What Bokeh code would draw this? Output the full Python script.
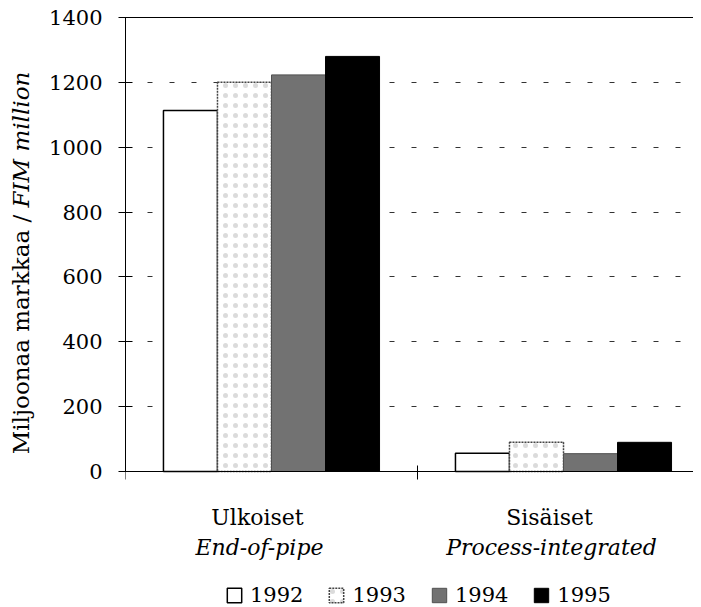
import math
from bokeh.plotting import figure
from bokeh.layouts import row
from bokeh.core.properties import value
from bokeh.core.property.dataspec import DataSpec
from bokeh.models import (Range1d, FixedTicker, LinearAxis, Legend, LegendItem, Label)
from bokeh.embed import file_html
from bokeh.resources import INLINE

# ---- data ----
categories = ["Ulkoiset", "Sisäiset"]
categories_en = ["End-of-pipe", "Process-integrated"]
years = ["1992", "1993", "1994", "1995"]
v1992 = [1113, 56]
v1993 = [1200, 90]
v1994 = [1223, 55]
v1995 = [1280, 90]
yticks = [0, 200, 400, 600, 800, 1000, 1200, 1400]
ylabel_roman = "Miljoonaa markkaa / "
ylabel_italic = "FIM million"

series = [v1992, v1993, v1994, v1995]
offsets = [-0.2775, -0.0925, 0.0925, 0.2775]
styles = [
    dict(fill_color="white", line_color="black", line_width=1.5),
    dict(fill_color="white", line_color="#444444", line_width=1.5, line_dash="2 1",
         hatch_pattern="dot", hatch_color="#999999", hatch_scale=10, hatch_alpha=0.35),
    dict(fill_color="#727272", line_color="#505050", line_width=1,
         hatch_pattern="checker", hatch_color="#454545", hatch_scale=2, hatch_alpha=0.5),
    dict(fill_color="black", line_color="black", line_width=1),
]

FONT = "DejaVu Serif"


def font_arg(model, name="text_font"):
    prop = model.lookup(name).property
    return value(FONT) if isinstance(prop, DataSpec) else FONT


# ---- pixel layout ----
H = 607            # canvas height
TOP = 17           # pixel row of the 1400 line
ZERO = 471         # pixel row of the 0 line
LEFT = 125         # pixel column of the y axis
LABW = 40          # width of the y-title strip
k = (ZERO - TOP) / 1400.0
y_start = 1400 - (H - TOP) / k
ppu = 292.0        # pixels per category
W = 693

# ---- narrow figure holding the y-axis title ----
lab = figure(width=LABW, height=H, output_backend="svg", toolbar_location=None,
             x_range=Range1d(0, 1), y_range=Range1d(0, 1),
             min_border=0, min_border_top=TOP, x_axis_location=None, y_axis_location=None)
lab.outline_line_color = None
lab.grid.visible = False
junction = H - 207
lab.add_layout(Label(x=20, y=junction, x_units="screen", y_units="screen",
                     text=ylabel_roman, angle=math.pi / 2,
                     text_align="right", text_baseline="middle",
                     text_font=font_arg(Label), text_font_size="23px", text_color="black"))
lab.add_layout(Label(x=20, y=junction, x_units="screen", y_units="screen",
                     text=ylabel_italic, angle=math.pi / 2,
                     text_align="left", text_baseline="middle",
                     text_font=font_arg(Label), text_font_style="italic",
                     text_font_size="23px", text_color="black"))

# ---- main chart ----
p = figure(width=W - LABW, height=H, output_backend="svg", toolbar_location=None,
           x_range=Range1d(0, (W - LEFT) / ppu), y_range=Range1d(y_start, 1400),
           min_border_left=LEFT - LABW, min_border_right=0, min_border_top=TOP,
           min_border_bottom=0, x_axis_location=None, y_axis_location="left")
p.outline_line_color = None
p.background_fill_color = "white"
p.border_fill_color = "white"

items = []
for yr, vals, off, st in zip(years, series, offsets, styles):
    xs = [i + 0.5 + off for i in range(len(categories))]
    r = p.vbar(x=xs, top=vals, width=0.185, bottom=0, **st)
    items.append(LegendItem(label=yr, renderers=[r]))

ya = p.yaxis[0]
ya.ticker = FixedTicker(ticks=yticks)
ya.bounds = (0, 1400)
ya.minor_tick_line_color = None
ya.major_tick_in = 7
ya.major_tick_out = 7
ya.major_label_standoff = 16
ya.major_label_text_font = FONT
ya.major_label_text_font_size = "21px"
ya.major_label_text_color = "black"
ya.axis_line_color = "black"
ya.major_tick_line_color = "black"

p.xgrid.grid_line_color = None
p.ygrid.ticker = FixedTicker(ticks=yticks[1:-1])
p.ygrid.grid_line_color = "#333333"
p.ygrid.grid_line_dash = "5 17"
p.ygrid.grid_line_width = 1

# top line at 1400
top = LinearAxis(ticker=FixedTicker(ticks=[]), major_tick_line_color=None,
                 minor_tick_line_color=None, major_label_text_font_size="1px",
                 major_label_text_color=None,
                 major_label_standoff=0, axis_line_color="black")
p.add_layout(top, "above")

# category axis at value 0, tick marks between categories
xa = LinearAxis(ticker=FixedTicker(ticks=[0, 1, 2]), fixed_location=0,
                minor_tick_line_color=None, major_tick_in=8, major_tick_out=6,
                major_label_text_font_size="1px", major_label_text_color=None,
                major_label_standoff=0, axis_line_color="black", major_tick_line_color="black")
p.add_layout(xa, "above")

# two-line category labels
centers = [i + 0.5 for i in range(len(categories))]
p.text(x=centers, y=[(ZERO - 517) / k] * len(centers), text=categories,
       x_offset=-14, text_align="center", text_baseline="alphabetic",
       text_font=value(FONT), text_font_size="22px", text_color="black")
p.text(x=centers, y=[(ZERO - 547) / k] * len(centers), text=categories_en,
       x_offset=-12, text_align="center", text_baseline="alphabetic",
       text_font=value(FONT), text_font_style="italic", text_font_size="22px",
       text_color="black")

legend = Legend(items=items, orientation="horizontal", location=(100, 0),
                glyph_width=18, glyph_height=18, label_standoff=7, spacing=24,
                label_text_font=font_arg(Legend, "label_text_font"),
                label_text_font_size="21px", label_text_color="black",
                border_line_color=None, background_fill_alpha=0, margin=0, padding=0)
p.add_layout(legend, "center")

layout = row(lab, p, spacing=0)
open("out.html", "w").write(file_html(layout, INLINE))
